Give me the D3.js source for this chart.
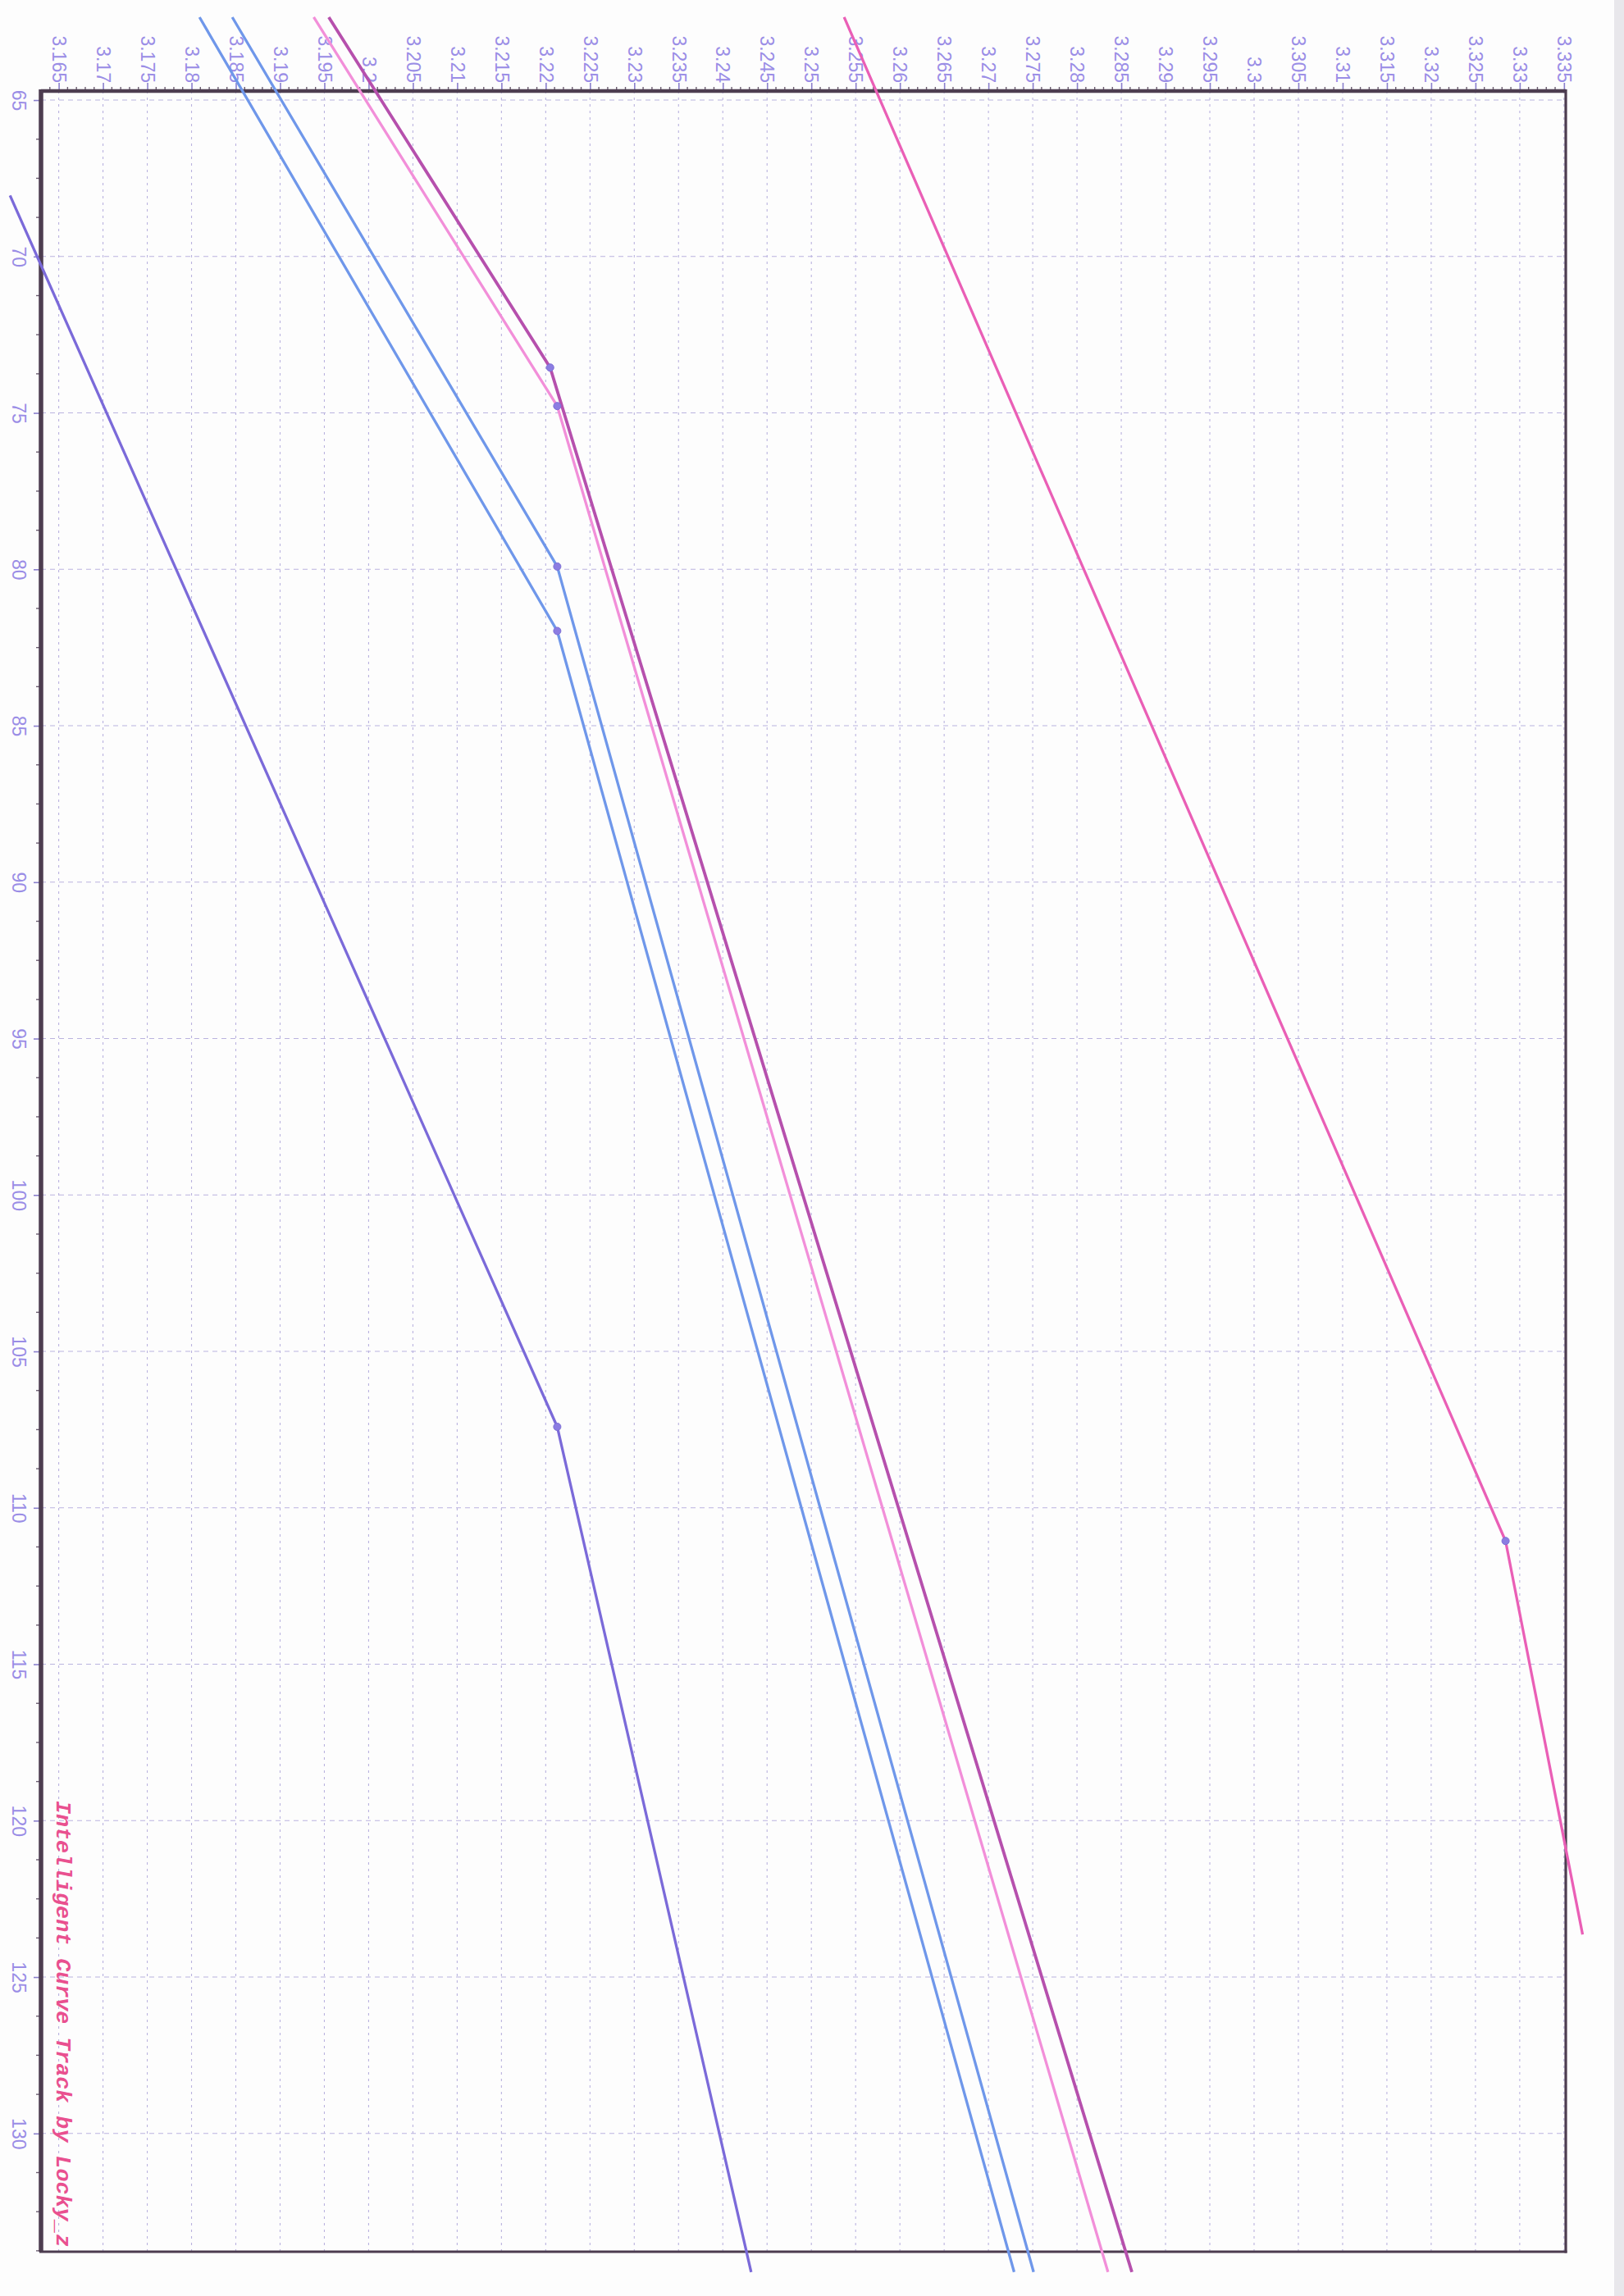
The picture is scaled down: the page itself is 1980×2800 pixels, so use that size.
<!DOCTYPE html>
<html>
<head>
<meta charset="utf-8">
<script src="https://cdn.jsdelivr.net/npm/d3@7"></script>
<style>
  html, body { margin: 0; padding: 0; background: #fdfdfd; }
  svg { display: block; }
</style>
</head>
<body>
<svg id="chart" width="1980" height="2800"></svg>
<script>
// ---- data (t = vertical-running axis, v = horizontal-running axis) ----
const tTickValues = [65, 70, 75, 80, 85, 90, 95, 100, 105, 110, 115, 120, 125, 130];
const tTickLabels = ["65", "70", "75", "80", "85", "90", "95", "100", "105", "110", "115", "120", "125", "130"];
const vTickValues = [3.165, 3.17, 3.175, 3.18, 3.185, 3.19, 3.195, 3.2, 3.205, 3.21, 3.215, 3.22, 3.225,
  3.23, 3.235, 3.24, 3.245, 3.25, 3.255, 3.26, 3.265, 3.27, 3.275, 3.28, 3.285, 3.29, 3.295, 3.3,
  3.305, 3.31, 3.315, 3.32, 3.325, 3.33, 3.335];
const vTickLabels = ["3.165", "3.17", "3.175", "3.18", "3.185", "3.19", "3.195", "3.2", "3.205", "3.21",
  "3.215", "3.22", "3.225", "3.23", "3.235", "3.24", "3.245", "3.25", "3.255", "3.26", "3.265", "3.27",
  "3.275", "3.28", "3.285", "3.29", "3.295", "3.3", "3.305", "3.31", "3.315", "3.32", "3.325", "3.33", "3.335"];

// each curve: t values and v values; middle point is the marked knot
const purpleT  = [68.05, 107.41, 134.43];
const purpleV  = [3.1595, 3.2213, 3.2432];
const blueAT   = [62.35, 81.97, 134.43];
const blueAV   = [3.1809, 3.2213, 3.2729];
const blueBT   = [62.35, 79.91, 134.43];
const blueBV   = [3.1846, 3.2213, 3.2751];
const orchidT  = [62.35, 74.78, 134.43];
const orchidV  = [3.1938, 3.2213, 3.2835];
const magentaT = [62.35, 73.55, 134.43];
const magentaV = [3.1955, 3.2205, 3.2862];
const pinkT    = [62.35, 111.06, 123.64];
const pinkV    = [3.2537, 3.3284, 3.3371];

const seriesNames  = ["purple", "blueA", "blueB", "orchid", "magenta", "pink"];
const seriesColors = ["#7b6ad9", "#6f97ea", "#6f97ea", "#f28fd9", "#b650ad", "#ea5fb6"];
const seriesWidths = [3.3, 3.3, 3.3, 3.3, 3.8, 3.3];
const seriesT = [purpleT, blueAT, blueBT, orchidT, magentaT, pinkT];
const seriesV = [purpleV, blueAV, blueBV, orchidV, magentaV, pinkV];

const watermark = "Intelligent Curve Track by Locky_z";

// ---- layout ----
const svg = d3.select("#chart");
const L = 50, R = 1909, T = 111, B = 2746;
const x = d3.scaleLinear().domain([3.163, 3.3352]).range([L, R]);
const y = d3.scaleLinear().domain([64.71, 133.78]).range([T, B]);

const labelColor = "#9a8de6";
const gridColor = "#bab3df";

// page edge shadow at right
svg.append("rect").attr("x", 1968).attr("y", 0).attr("width", 12).attr("height", 2800).attr("fill", "#e8e7eb");

// gridlines
const grid = svg.append("g");
grid.selectAll("line.v").data(vTickValues).join("line")
  .attr("x1", d => x(d)).attr("x2", d => x(d))
  .attr("y1", T).attr("y2", B)
  .attr("stroke", gridColor).attr("stroke-width", 1.1).attr("stroke-dasharray", "3,5");
grid.selectAll("line.h").data(tTickValues).join("line")
  .attr("x1", L).attr("x2", R)
  .attr("y1", d => y(d)).attr("y2", d => y(d))
  .attr("stroke", gridColor).attr("stroke-width", 1.1).attr("stroke-dasharray", "6,5");

// top axis (v)
const topAxis = d3.axisTop(x).tickValues(vTickValues).tickSize(10).tickPadding(0)
  .tickFormat((d, i) => vTickLabels[i]);
const gTop = svg.append("g").attr("transform", `translate(0,${T})`).call(topAxis);
gTop.select(".domain").remove();
gTop.selectAll(".tick line").attr("stroke", "#8a7fcc").attr("stroke-width", 1.6);
gTop.selectAll(".tick text")
  .attr("fill", labelColor).attr("font-family", "'Liberation Sans', Arial, sans-serif")
  .attr("font-size", 23).attr("text-anchor", "end")
  .attr("transform", "translate(0,-10) rotate(90)")
  .attr("x", 0).attr("y", 0).attr("dy", "0.36em");
// top minor ticks
const vMinor = d3.range(3.164, 3.3352, 0.001).filter(d => Math.abs(Math.round(d * 200) - d * 200) > 0.01);
svg.append("g").selectAll("line").data(vMinor).join("line")
  .attr("x1", d => x(d)).attr("x2", d => x(d)).attr("y1", T).attr("y2", T - 5)
  .attr("stroke", "#6b5d70").attr("stroke-width", 1.4);

// left axis (t)
const leftAxis = d3.axisLeft(y).tickValues(tTickValues).tickSize(9).tickPadding(0)
  .tickFormat((d, i) => tTickLabels[i]);
const gLeft = svg.append("g").attr("transform", `translate(${L},0)`).call(leftAxis);
gLeft.select(".domain").remove();
gLeft.selectAll(".tick line").attr("stroke", "#8a7fcc").attr("stroke-width", 1.6);
gLeft.selectAll(".tick text")
  .attr("fill", labelColor).attr("font-family", "'Liberation Sans', Arial, sans-serif")
  .attr("font-size", 23).attr("text-anchor", "middle")
  .attr("transform", "translate(-27,0) rotate(90)")
  .attr("x", 0).attr("y", 0).attr("dy", "0.36em");
const tMinor = d3.range(65, 133.78, 1.25).filter(d => Math.abs(d % 5) > 0.01);
svg.append("g").selectAll("line").data(tMinor).join("line")
  .attr("x1", L).attr("x2", L - 6).attr("y1", d => y(d)).attr("y2", d => y(d))
  .attr("stroke", "#6b5d70").attr("stroke-width", 1.4);

// frame
const frameColor = "#4d3d50";
svg.append("line").attr("x1", L).attr("x2", R).attr("y1", T).attr("y2", T).attr("stroke", frameColor).attr("stroke-width", 4.5);
svg.append("line").attr("x1", L).attr("x2", L).attr("y1", T - 2).attr("y2", B).attr("stroke", frameColor).attr("stroke-width", 5.5);
svg.append("line").attr("x1", R).attr("x2", R).attr("y1", T - 2).attr("y2", B + 1.5).attr("stroke", frameColor).attr("stroke-width", 3.2);
svg.append("line").attr("x1", L - 2).attr("x2", R + 1.5).attr("y1", B).attr("y2", B).attr("stroke", frameColor).attr("stroke-width", 3.2);

// curves
const line = d3.line().x(d => x(d[1])).y(d => y(d[0]));
seriesNames.forEach((name, i) => {
  const pts = seriesT[i].map((t, j) => [t, seriesV[i][j]]);
  svg.append("path").datum(pts)
    .attr("class", "curve " + name)
    .attr("d", line).attr("fill", "none")
    .attr("stroke", seriesColors[i]).attr("stroke-width", seriesWidths[i])
    .attr("stroke-linejoin", "round");
});
// knot markers
seriesNames.forEach((name, i) => {
  svg.append("circle")
    .attr("cx", x(seriesV[i][1])).attr("cy", y(seriesT[i][1]))
    .attr("r", 4.5).attr("fill", "#8c7de2").attr("stroke", "#7d6fd6").attr("stroke-width", 1);
});

// watermark
svg.append("text")
  .attr("transform", `translate(69,${2196}) rotate(90)`)
  .attr("font-family", "'Liberation Mono', 'Courier New', monospace")
  .attr("font-weight", "bold").attr("font-style", "italic")
  .attr("font-size", 26.7).attr("fill", "#e9508f")
  .attr("text-anchor", "start")
  .text(watermark);
</script>
</body>
</html>
